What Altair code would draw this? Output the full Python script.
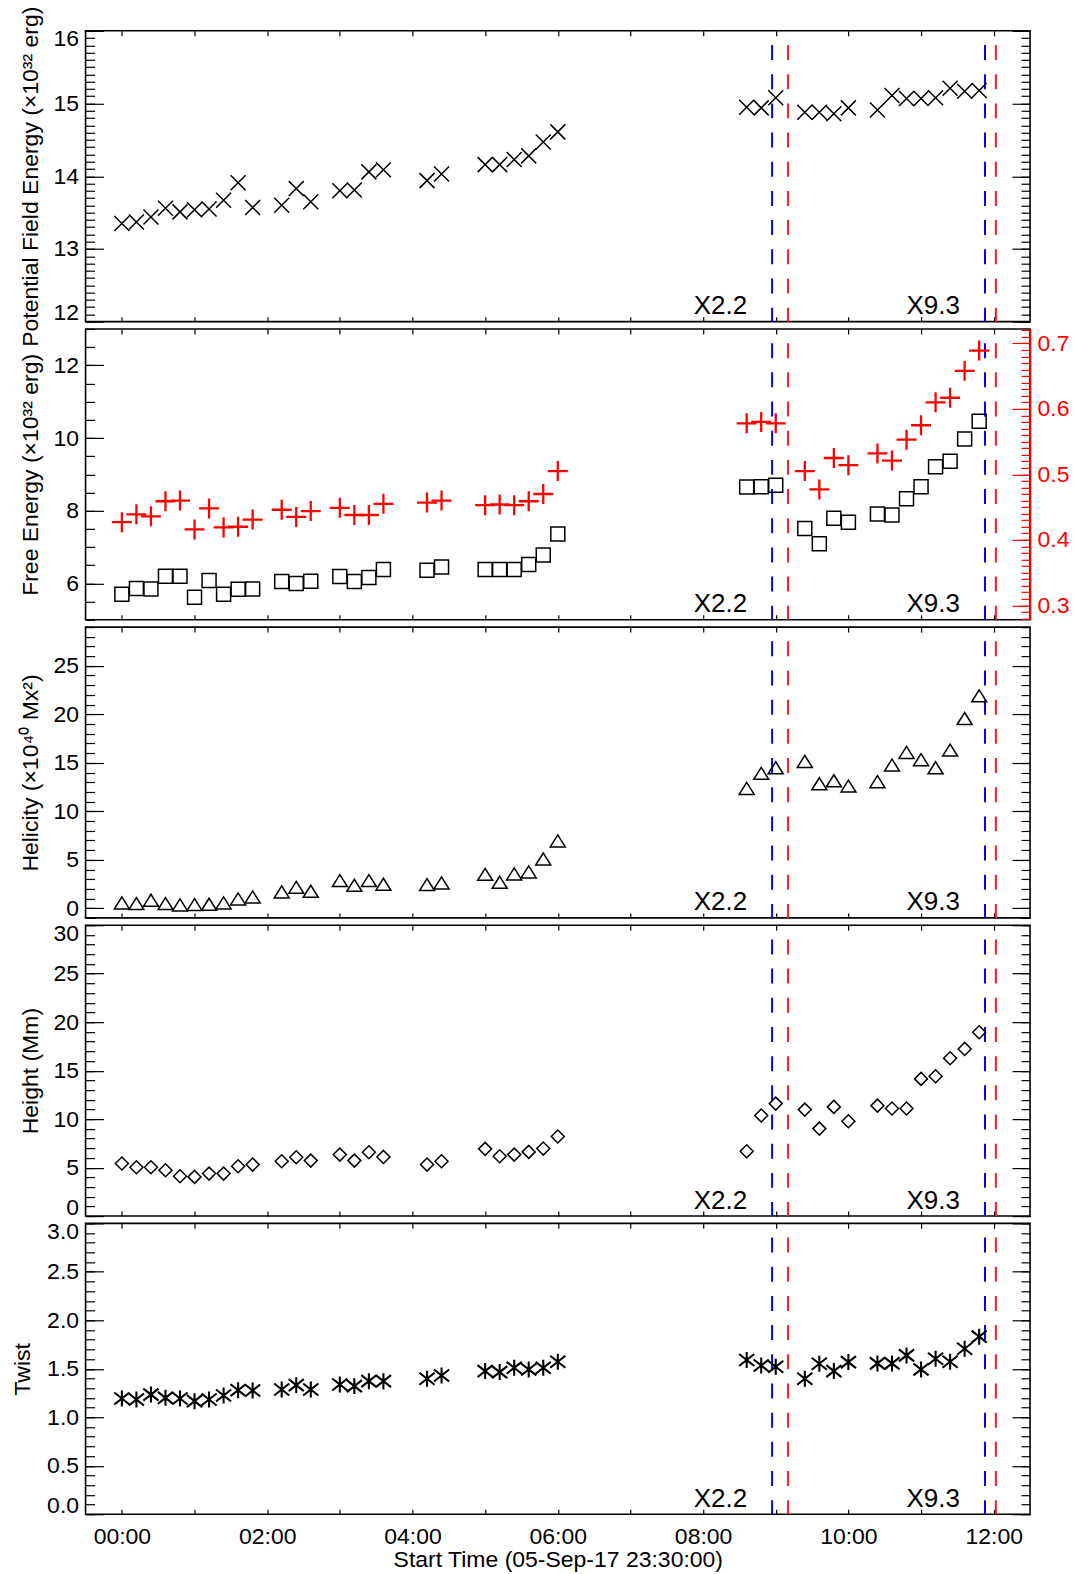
import altair as alt
import pandas as pd

# ---------------- data ----------------
hours = [0.0, 0.2, 0.4, 0.6, 0.8, 1.0, 1.2, 1.4, 1.6, 1.8,
         2.2, 2.4, 2.6, 3.0, 3.2, 3.4, 3.6, 4.2, 4.4,
         5.0, 5.2, 5.4, 5.6, 5.8, 6.0,
         8.6, 8.8, 9.0, 9.4, 9.6, 9.8, 10.0,
         10.4, 10.6, 10.8, 11.0, 11.2, 11.4, 11.6, 11.8]

potential_energy = [13.35, 13.37, 13.44, 13.56, 13.51, 13.54, 13.55, 13.67, 13.91, 13.57,
                    13.60, 13.83, 13.65, 13.80, 13.81, 14.06, 14.09, 13.94, 14.03,
                    14.16, 14.16, 14.23, 14.28, 14.47, 14.61,
                    14.95, 14.94, 15.08, 14.88, 14.88, 14.86, 14.94,
                    14.91, 15.11, 15.07, 15.07, 15.08, 15.21, 15.17, 15.18]

free_energy = [5.70, 5.86, 5.85, 6.20, 6.20, 5.62, 6.08, 5.70, 5.84, 5.85,
               6.05, 6.00, 6.06, 6.19, 6.05, 6.16, 6.38, 6.36, 6.45,
               6.38, 6.38, 6.38, 6.52, 6.78, 7.36,
               8.65, 8.66, 8.70, 7.51, 7.09, 7.79, 7.68,
               7.91, 7.88, 8.33, 8.66, 9.21, 9.36, 9.97, 10.46]

free_ratio = [0.427, 0.439, 0.436, 0.459, 0.460, 0.416, 0.448, 0.419, 0.420, 0.431,
              0.446, 0.435, 0.444, 0.449, 0.438, 0.438, 0.455, 0.457, 0.460,
              0.453, 0.454, 0.453, 0.459, 0.470, 0.505,
              0.578, 0.580, 0.578, 0.505, 0.477, 0.525, 0.514,
              0.532, 0.521, 0.553, 0.575, 0.610, 0.617, 0.658, 0.689]

helicity = [0.55, 0.48, 0.82, 0.48, 0.34, 0.38, 0.41, 0.55, 0.96, 1.17,
            1.68, 2.16, 1.75, 2.85, 2.37, 2.85, 2.47, 2.44, 2.61,
            3.50, 2.68, 3.54, 3.74, 5.08, 6.94,
            12.36, 13.91, 14.49, 15.14, 12.84, 13.15, 12.60,
            13.05, 14.77, 16.07, 15.32, 14.49, 16.31, 19.57, 21.91]

height_mm = [5.42, 5.03, 5.03, 4.72, 4.11, 4.04, 4.38, 4.38, 5.14, 5.31,
             5.65, 6.07, 5.72, 6.34, 5.72, 6.58, 6.10, 5.31, 5.65,
             6.93, 6.17, 6.34, 6.62, 6.96, 8.20,
             6.69, 10.37, 11.60, 10.98, 9.02, 11.26, 9.78,
             11.39, 11.09, 11.09, 14.15, 14.42, 16.28, 17.24, 18.96]

twist = [1.193, 1.183, 1.234, 1.200, 1.193, 1.166, 1.183, 1.224, 1.279, 1.276,
         1.286, 1.331, 1.286, 1.338, 1.321, 1.372, 1.372, 1.397, 1.431,
         1.476, 1.466, 1.510, 1.493, 1.510, 1.572,
         1.590, 1.534, 1.521, 1.397, 1.552, 1.476, 1.569,
         1.555, 1.555, 1.638, 1.493, 1.603, 1.572, 1.707, 1.831]

flare_names = ["X2.2", "X9.3"]
flare_label_hour = [7.87, 10.80]
flare_start_hour = [8.95, 11.88]
flare_peak_hour = [9.17, 12.03]

tick_hours = [0, 1, 2, 3, 4, 5, 6, 7, 8, 9, 10, 11, 12]
tick_labels = ["00:00", "", "02:00", "", "04:00", "", "06:00", "", "08:00", "", "10:00", "", "12:00"]

# ---------------- style ----------------
W, H = 945, 291
FONT = "Liberation Sans"
FS = 23
XDOM = [-0.5, 12.5]

df = pd.DataFrame({"t": hours, "pot": potential_energy, "free": free_energy,
                   "ratio": free_ratio, "hel": helicity, "hgt": height_mm, "tw": twist})
flare_df = pd.DataFrame({"name": flare_names, "lx": flare_label_hour,
                         "start": flare_start_hour, "peak": flare_peak_hour})


def xscale():
    return alt.Scale(domain=XDOM, nice=False, zero=False)


def yscale(dom):
    return alt.Scale(domain=dom, nice=False, zero=False)


def steps(a, b, s):
    n = int(round((b - a) / s))
    return [round(a + i * s, 4) for i in range(n + 1)]


def carrier(yfield, ydom, xaxis, yaxis):
    return alt.Chart(df).mark_point(opacity=0, size=1).encode(
        x=alt.X("t:Q", scale=xscale(), axis=xaxis),
        y=alt.Y(f"{yfield}:Q", scale=yscale(ydom), axis=yaxis),
    )


def x_bottom(show):
    kw = dict(orient="bottom", values=tick_hours, offset=-5, tickSize=5, domain=False,
              grid=False, labelFlush=False, labelOverlap=False)
    if show:
        labexpr = "[" + ",".join("'" + s + "'" for s in tick_labels) + "][datum.value]"
        return alt.Axis(labels=True, labelExpr=labexpr, labelPadding=11.5,
                        title="Start Time (05-Sep-17 23:30:00)", titleY=57.7,
                        titleBaseline="alphabetic", titleAlign="center", **kw)
    return alt.Axis(labels=False, title=None, minExtent=0, **kw)


def x_top():
    return alt.Axis(orient="top", values=tick_hours, offset=-5, tickSize=5, domain=False,
                    grid=False, labels=False, title=None, minExtent=0)


def y_axes(major, minor, fmt, title, titleX, side="left", color="black", labels=True):
    maj = dict(orient=side, values=major, offset=-18, tickSize=18, domain=False, grid=False,
               tickColor=color, minExtent=0)
    if labels:
        maj.update(labels=True, format=fmt, labelPadding=7, labelFlush=True, labelFlushOffset=3,
                   labelColor=color, labelOverlap=False)
    else:
        maj.update(labels=False)
    if title:
        maj.update(title=title, titleX=titleX, titleBaseline="alphabetic", titleAlign="center",
                   titleAngle=270)
    else:
        maj.update(title=None)
    mino = dict(orient=side, values=minor, offset=-9, tickSize=9, domain=False, grid=False,
                labels=False, title=None, tickColor=color, minExtent=0)
    return alt.Axis(**maj), alt.Axis(**mino)


def flare_layers():
    blue = alt.Chart(flare_df).mark_rule(color="#0000ff", strokeWidth=2, strokeDash=[15, 14.2],
                                         strokeDashOffset=15).encode(
        x=alt.X("start:Q", scale=xscale(), axis=None))
    red = alt.Chart(flare_df).mark_rule(color="#ff1a1a", strokeWidth=2, strokeDash=[15, 14.2],
                                        strokeDashOffset=15).encode(
        x=alt.X("peak:Q", scale=xscale(), axis=None))
    txt = alt.Chart(flare_df).mark_text(align="left", baseline="alphabetic", font=FONT,
                                        fontSize=26, color="black").encode(
        x=alt.X("lx:Q", scale=xscale(), axis=None),
        y=alt.value(H - 7.5),
        text="name:N")
    return [blue, red, txt]


XPATH = "M-1,-1L1,1M-1,1L1,-1"
PLUS = "M-1,0L1,0M0,-1L0,1"
TRI = "M-1,0.8L0,-0.8L1,0.8Z"
AST = "M0,-1L0,1M-0.95,-0.75L0.95,0.75M-0.95,0.75L0.95,-0.75"


def marks(field, dom, shape, size, sw, color="black"):
    return alt.Chart(df).mark_point(shape=shape, size=size, strokeWidth=sw, color=color,
                                    filled=False, opacity=1).encode(
        x=alt.X("t:Q", scale=xscale(), axis=None),
        y=alt.Y(f"{field}:Q", scale=yscale(dom), axis=None))


def panel(field, dom, major, minor, fmt, title, titleX, mark_layers, bottom_labels=False,
          extra=None):
    lmaj, lmin = y_axes(major, minor, fmt, title, titleX)
    layers = flare_layers() + mark_layers + [
        carrier(field, dom, x_bottom(bottom_labels), lmaj),
        carrier(field, dom, x_top(), lmin),
    ]
    if extra is None:
        rmaj, rmin = y_axes(major, minor, fmt, None, None, side="right", labels=False)
        layers += [carrier(field, dom, None, rmaj), carrier(field, dom, None, rmin)]
    else:
        layers += extra
    return alt.layer(*layers).resolve_scale(y="independent").resolve_axis(
        x="independent", y="independent").properties(width=W, height=H)


TX = -66.5   # title baseline ~36.5 px from page left

p1 = panel("pot", [12, 16], [12, 13, 14, 15, 16], steps(12, 16, 0.1), "d",
           "Potential Field Energy (×10³² erg)", TX,
           [marks("pot", [12, 16], XPATH, 225, 1.5)])

RDOM = [0.278, 0.722]
rmaj, rmin = y_axes([0.3, 0.4, 0.5, 0.6, 0.7], steps(0.28, 0.72, 0.01), ".1f", None, None,
                    side="right", color="#ff0000", labels=True)
rdom_axis = alt.Axis(orient="right", offset=0, domain=True, domainColor="#ff0000",
                     domainWidth=1.6, ticks=False, labels=False, title=None, grid=False,
                     minExtent=0)
p2 = panel("free", [5, 13], [6, 8, 10, 12], steps(5, 13, 0.5), "d",
           "Free Energy (×10³² erg)", TX,
           [marks("free", [5, 13], "square", 196, 1.5),
            marks("ratio", RDOM, PLUS, 400, 2.3, color="#ff0000")],
           extra=[carrier("ratio", RDOM, None, rdom_axis),
                  carrier("ratio", RDOM, None, rmaj),
                  carrier("ratio", RDOM, None, rmin)])

p3 = panel("hel", [-1, 29], [0, 5, 10, 15, 20, 25], steps(-1, 29, 1), "d",
           "Helicity (×10⁴⁰ Mx²)", TX,
           [marks("hel", [-1, 29], TRI, 225, 1.5)])

p4 = panel("hgt", [0, 30], [0, 5, 10, 15, 20, 25, 30], steps(0, 30, 1), "d",
           "Height (Mm)", TX,
           [marks("hgt", [0, 30], "diamond", 169, 1.5)])

p5 = panel("tw", [0, 3], [0.0, 0.5, 1.0, 1.5, 2.0, 2.5, 3.0], steps(0, 3, 0.1), ".1f",
           "Twist", -74,
           [marks("tw", [0, 3], AST, 256, 2.1)], bottom_labels=True)

chart = alt.vconcat(p1, p2, p3, p4, p5, spacing=7.3, bounds="flush").properties(
    padding={"left": 10.6, "top": 4.4, "right": 5, "bottom": 5}
).configure_view(
    stroke="black", strokeWidth=1.6
).configure_axis(
    labelFont=FONT, titleFont=FONT, labelFontSize=FS, titleFontSize=FS,
    titleFontWeight="normal", labelColor="black", titleColor="black",
    tickColor="black", tickWidth=1.2, grid=False
)

chart.save("out.html", embed_options={"renderer": "svg", "actions": False})
